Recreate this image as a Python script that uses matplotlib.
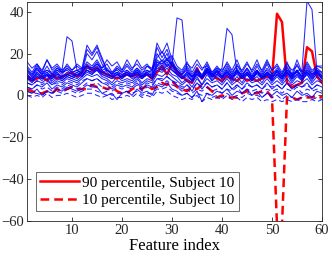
import matplotlib
matplotlib.use("Agg")
import matplotlib.pyplot as plt
import numpy as np

plt.rcParams['font.family'] = ['Liberation Serif', 'DejaVu Serif']

features = list(range(1, 61))

# Subject 10 (red)
red_p90 = [9, 7, 8, 9, 7, 10, 8, 9, 10, 11,
           9, 11, 14, 12, 13, 11, 10, 9, 8, 9,
           10, 9, 10, 9, 10, 8, 11, 14, 10, 15,
           11, 9, 7, 6, 13, 8, 12, 10, 8, 7,
           9, 8, 7, 9, 7, 8, 7, 8, 9, 8,
           39, 35, 6, 4, 5, 6, 23, 21, 9, 6]
red_p10 = [3, 2, 1, 1, 2, 1, 3, 2, 3, 4,
           3, 3, 3, 5, 4, 4, 3, 4, 2, 1,
           1, 3, 4, 3, 5, 3, 4, 6, 5, 7,
           4, 3, 2, 4, 3, 5, 4, 2, -1, 0,
           -1, -1, -1, 1, 2, 1, 1, 2, 2, -1,
           -62, -62, -1, -1, -2, -1, -1, -1, 0, -1]

# Other subjects, 90th percentile (blue solid)
b1 = [14, 11, 15, 11, 17, 12, 14, 11, 15, 12,
      14, 12, 16, 14, 17, 13, 15, 11, 14, 12,
      17, 13, 15, 12, 14, 13, 18, 21, 17, 19,
      14, 12, 16, 11, 15, 12, 16, 11, 14, 11,
      16, 12, 17, 11, 15, 12, 17, 11, 16, 12,
      15, 11, 16, 10, 17, 11, 16, 12, 14, 13]
b2 = [12, 10, 13, 10, 12, 11, 13, 12, 28, 26,
      12, 10, 12, 10, 13, 11, 12, 10, 13, 11,
      12, 10, 13, 11, 12, 10, 14, 17, 14, 16,
      12, 10, 13, 9, 12, 10, 13, 10, 12, 9,
      13, 10, 12, 9, 13, 10, 12, 9, 13, 10,
      12, 9, 13, 10, 12, 9, 13, 10, 12, 11]
b3 = [11, 9, 12, 10, 11, 9, 12, 10, 13, 11,
      12, 13, 24, 20, 24, 18, 12, 11, 12, 10,
      11, 10, 12, 9, 11, 12, 25, 20, 25, 17,
      12, 10, 12, 9, 11, 8, 12, 9, 11, 8,
      12, 9, 13, 9, 11, 8, 12, 9, 11, 8,
      12, 9, 11, 8, 12, 9, 11, 8, 12, 9]
b4 = [13, 10, 14, 11, 12, 10, 13, 11, 12, 10,
      11, 12, 22, 19, 23, 17, 12, 10, 11, 9,
      12, 10, 11, 9, 12, 11, 23, 18, 22, 15,
      12, 9, 11, 8, 12, 9, 11, 8, 12, 9,
      11, 8, 12, 9, 11, 8, 12, 8, 11, 9,
      11, 8, 12, 9, 11, 8, 12, 9, 11, 8]
b5 = [10, 8, 11, 9, 10, 8, 11, 9, 10, 9,
      10, 11, 20, 17, 21, 15, 11, 9, 10, 8,
      10, 9, 11, 8, 10, 10, 20, 16, 20, 14,
      11, 8, 10, 7, 10, 8, 11, 7, 10, 8,
      10, 7, 11, 8, 10, 7, 11, 8, 10, 7,
      10, 8, 11, 7, 10, 8, 10, 7, 11, 8]
b6 = [9, 8, 10, 9, 11, 8, 10, 9, 11, 10,
      9, 11, 14, 13, 15, 12, 10, 9, 11, 10,
      11, 9, 12, 10, 11, 9, 16, 14, 17, 15,
      37, 36, 11, 9, 12, 9, 13, 10, 11, 9,
      12, 9, 11, 10, 12, 9, 11, 10, 12, 9,
      11, 9, 12, 10, 11, 9, 12, 10, 11, 9]
b7 = [8, 7, 9, 8, 10, 7, 9, 8, 10, 9,
      8, 10, 12, 11, 13, 10, 9, 8, 10, 9,
      10, 8, 9, 8, 10, 8, 14, 12, 15, 13,
      10, 8, 9, 7, 10, 8, 11, 9, 10, 13,
      32, 29, 11, 8, 10, 7, 11, 8, 10, 7,
      10, 7, 11, 8, 10, 7, 11, 8, 10, 8]
b8 = [10, 8, 11, 9, 10, 9, 11, 8, 10, 9,
      11, 9, 13, 12, 14, 11, 10, 9, 11, 8,
      10, 9, 11, 9, 10, 8, 13, 12, 14, 12,
      10, 8, 11, 9, 10, 8, 12, 9, 10, 8,
      11, 9, 10, 8, 11, 9, 10, 8, 11, 9,
      10, 8, 11, 9, 12, 12, 45, 41, 11, 9]
b9 = [8, 6, 9, 7, 10, 6, 8, 7, 9, 8,
      7, 9, 11, 10, 12, 9, 8, 6, 9, 7,
      8, 7, 9, 6, 8, 7, 12, 11, 13, 10,
      9, 6, 8, 6, 9, 5, 10, 7, 9, 6,
      10, 6, 9, 6, 10, 7, 9, 6, 10, 6,
      9, 6, 10, 6, 9, 7, 10, 6, 9, 7]
b10 = [6, 5, 7, 6, 8, 5, 7, 6, 8, 7,
       6, 8, 10, 9, 10, 8, 7, 5, 7, 6,
       7, 6, 8, 5, 7, 6, 10, 9, 11, 9,
       7, 5, 7, 4, 8, 5, 8, 6, 7, 5,
       8, 5, 7, 5, 8, 6, 7, 5, 8, 5,
       7, 5, 8, 5, 7, 6, 8, 5, 7, 6]
b11 = [4, 3, 5, 4, 6, 3, 5, 4, 6, 5,
       4, 6, 8, 7, 8, 6, 5, 3, 5, 4,
       5, 4, 6, 3, 5, 4, 8, 7, 9, 7,
       5, 3, 5, 2, 6, 3, 6, 4, 5, 3,
       6, 3, 5, 3, 6, 4, 5, 3, 6, 3,
       5, 3, 6, 3, 5, 4, 6, 3, 5, 4]
b12 = [12, 9, 13, 10, 14, 10, 12, 11, 13, 11,
       12, 11, 15, 13, 16, 12, 13, 10, 13, 11,
       14, 11, 13, 10, 14, 12, 17, 15, 18, 14,
       12, 10, 14, 10, 13, 9, 15, 10, 13, 10,
       14, 10, 15, 10, 13, 9, 14, 10, 15, 10,
       13, 10, 14, 9, 15, 10, 14, 10, 13, 11]
b13 = [2, 1, 3, 0, 2, 1, 3, 2, 4, 3,
       2, 3, 5, 4, 4, 1, 0, 1, -2, 1,
       2, 0, 3, 1, 2, 0, 5, 4, 6, 3,
       2, 0, 1, -1, 2, -3, 1, 0, 2, 1,
       3, 0, 2, 1, 3, 0, 2, -1, 1, 0,
       2, 0, 1, -1, 2, 0, 1, -1, 2, 1]
b14 = [9, 7, 10, 8, 9, 8, 10, 7, 9, 8,
       10, 9, 12, 11, 12, 10, 9, 8, 10, 9,
       11, 9, 10, 8, 11, 9, 15, 13, 16, 12,
       10, 8, 10, 7, 11, 8, 13, 9, 12, 9,
       11, 8, 12, 9, 11, 8, 12, 9, 11, 8,
       12, 9, 11, 8, 12, 9, 11, 9, 12, 10]
b15 = [16, 13, 15, 12, 17, 13, 15, 12, 14, 12,
       15, 13, 14, 12, 15, 13, 17, 14, 16, 12,
       15, 12, 17, 13, 15, 12, 16, 15, 17, 14,
       13, 11, 15, 13, 17, 13, 14, 11, 13, 12,
       15, 11, 14, 12, 16, 11, 15, 12, 17, 12,
       14, 10, 15, 12, 14, 11, 15, 11, 14, 14]

# Other subjects, 10th percentile (blue dashed)
d1 = [4, 3, 5, 3, 4, 2, 4, 3, 5, 4,
      3, 4, 6, 5, 6, 4, 3, 2, 4, 3,
      4, 3, 5, 2, 4, 3, 6, 5, 7, 5,
      4, 2, 3, 1, 3, 2, 4, 2, 3, 1,
      3, 2, 4, 1, 3, 2, 3, 1, 3, 2,
      3, 1, 3, 2, 4, 1, 3, 2, 3, 2]
d2 = [2, 1, 1, 0, 2, 1, 2, 1, 3, 2,
      1, 2, 3, 3, 2, 1, 2, 0, 1, 1,
      2, 1, 2, 0, 1, 1, 3, 3, 4, 2,
      1, 0, 1, -1, 1, 0, 1, -1, 0, -1,
      1, -1, 0, -1, 1, 0, 0, -1, 1, -1,
      0, -2, 0, -1, -2, -1, 0, -2, -1, -2]
d3 = [0, -1, 0, -1, 1, -1, 0, 0, 1, 0,
      -1, 0, 1, 1, 0, -1, 0, -2, -1, -1,
      0, -1, 1, -1, 0, -1, 2, 1, 2, 0,
      -1, -2, -1, -2, 0, -3, -1, -2, -1, -2,
      0, -2, -1, -3, -1, -2, -1, -3, -2, -3,
      -2, -3, -2, -3, -2, -3, -3, -2, -3, -2]
d4 = [6, 5, 7, 5, 7, 5, 6, 5, 7, 6,
      5, 7, 8, 7, 8, 6, 6, 4, 6, 5,
      6, 5, 7, 4, 6, 5, 8, 8, 9, 7,
      6, 4, 5, 3, 6, 4, 6, 4, 5, 3,
      6, 3, 5, 3, 5, 4, 5, 3, 5, 4,
      5, 3, 6, 3, 5, 4, 5, 3, 5, 4]

blue_solid = [b1, b2, b3, b4, b5, b6, b7, b8, b9, b10, b11, b12, b13, b14, b15]
blue_dashed = [d1, d2, d3, d4]

xticks = [10, 20, 30, 40, 50, 60]
yticks = [-60, -40, -20, 0, 20, 40]

fig = plt.figure(figsize=(3.32, 2.64), dpi=100)
ax = fig.add_axes([27/332, 1-221/264, 295/332, 219/264])

l1, = ax.plot(features, red_p90, color='red', lw=1.8, label='90 percentile, Subject 10')
l2, = ax.plot(features, red_p10, color='red', lw=1.8, ls=(0, (3.5, 2)), label='10 percentile, Subject 10')
for s in blue_solid:
    ax.plot(features, s, color='blue', lw=0.75, alpha=0.85)
for s in blue_dashed:
    ax.plot(features, s, color='blue', lw=0.75, alpha=0.85, ls=(0, (5, 3)))

ax.set_xlim(1, 60)
ax.set_ylim(-60, 44.6)
ax.set_xticks(xticks)
ax.set_yticks(yticks)
gray = '#262626'
ax.tick_params(direction='in', top=True, right=True, length=3, width=0.6,
               colors=gray, labelsize=10.5, pad=2)
for sp in ax.spines.values():
    sp.set_color(gray)
    sp.set_linewidth(0.6)
ax.set_xlabel('Feature index', fontsize=12, color='black', labelpad=1)

leg = ax.legend(handles=[l1, l2], loc='lower left', bbox_to_anchor=(0.03, 0.045),
                fontsize=11, frameon=True, fancybox=False, handlelength=2.6,
                borderpad=0.25, labelspacing=0.25, handletextpad=0.2, borderaxespad=0)
leg.get_frame().set_edgecolor(gray)
leg.get_frame().set_linewidth(0.6)

fig.savefig('out.png', dpi=100)
